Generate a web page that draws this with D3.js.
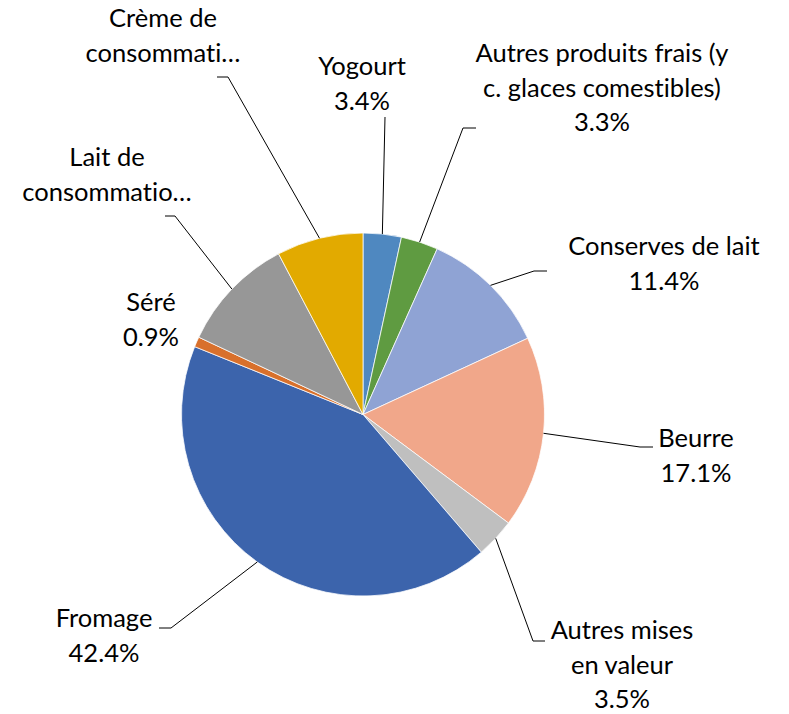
<!DOCTYPE html>
<html>
<head>
<meta charset="utf-8">
<script src="https://cdn.jsdelivr.net/npm/d3@7"></script>
<style>
  html, body { margin: 0; padding: 0; background: #ffffff; }
  svg { display: block; }
  text { font-family: Lato, "Open Sans", sans-serif; fill: #000; font-variant-ligatures: none; }
</style>
</head>
<body>
<svg id="chart" width="789" height="714"></svg>
<script>
// ---- data ----
const categories = [
  "Yogourt",
  "Autres produits frais (y c. glaces comestibles)",
  "Conserves de lait",
  "Beurre",
  "Autres mises en valeur",
  "Fromage",
  "Séré",
  "Lait de consommation",
  "Crème de consommation"
];
const values = [3.4, 3.3, 11.4, 17.1, 3.5, 42.4, 0.9, 10.3, 7.7];
const colors = ["#4f88c0", "#5f9b41", "#8fa3d4", "#f1a78a", "#bfbfbf", "#3c64ac", "#d8702c", "#979797", "#e2aa00"];
// displayed (wrapped / truncated) label lines; value line appended when shown
const labelLines = [
  ["Yogourt"],
  ["Autres produits frais (y", "c. glaces comestibles)"],
  ["Conserves de lait"],
  ["Beurre"],
  ["Autres mises", "en valeur"],
  ["Fromage"],
  ["Séré"],
  ["Lait de", "consommatio…"],
  ["Crème de", "consommati…"]
];
const showValue = [true, true, true, true, true, true, true, false, false];

// ---- layout (label placement, separate from data) ----
// cx: text centre, y: first baseline, elbow: leader bend point, end: leader end x (null = no leader)
const labelLayout = [
  { cx: 362, y: 75,  elbow: [385, 117], end: null },
  { cx: 602, y: 62,  elbow: [463, 128], end: 476 },
  { cx: 664, y: 255, elbow: [534, 271], end: 547 },
  { cx: 696, y: 447, elbow: [640, 447], end: 653 },
  { cx: 622, y: 639, elbow: [533, 641], end: 545 },
  { cx: 104, y: 627, elbow: [171, 628], end: 159 },
  { cx: 151, y: 311, elbow: null,       end: null },
  { cx: 107, y: 166, elbow: [175, 216], end: 165 },
  { cx: 163, y: 27,  elbow: [228, 77],  end: 217 }
];

const cx = 363, cy = 414.5, radius = 181.5;
const lineH = 34.5;
const fontSize = 25.5;

const svg = d3.select("#chart");
const g = svg.append("g").attr("transform", `translate(${cx},${cy})`);

const data = categories.map((c, i) => ({ name: c, value: values[i], i }));
const pie = d3.pie().value(d => d.value).sort(null);
const arcs = pie(data);
const arc = d3.arc().innerRadius(0).outerRadius(radius);

g.selectAll("path.slice")
  .data(arcs)
  .join("path")
  .attr("class", "slice")
  .attr("d", arc)
  .attr("fill", d => colors[d.data.i])
  .attr("stroke", "#ffffff")
  .attr("stroke-width", 0.75)
  .attr("stroke-linejoin", "round");

// leader lines
arcs.forEach(a => {
  const L = labelLayout[a.data.i];
  if (!L.elbow) return;
  const mid = (a.startAngle + a.endAngle) / 2;
  const p0 = [cx + radius * Math.sin(mid), cy - radius * Math.cos(mid)];
  const pts = [p0, L.elbow];
  if (L.end !== null) pts.push([L.end, L.elbow[1]]);
  svg.append("path")
    .attr("d", d3.line()(pts))
    .attr("fill", "none")
    .attr("stroke", "#000")
    .attr("stroke-width", 1);
});

// labels
arcs.forEach(a => {
  const i = a.data.i;
  const L = labelLayout[i];
  const lines = labelLines[i].slice();
  if (showValue[i]) lines.push(d3.format(".1f")(values[i]) + "%");
  const t = svg.append("text")
    .attr("text-anchor", "middle")
    .attr("font-size", fontSize);
  lines.forEach((ln, k) => {
    t.append("tspan").attr("x", L.cx).attr("y", L.y + k * lineH).text(ln);
  });
});
</script>
</body>
</html>
